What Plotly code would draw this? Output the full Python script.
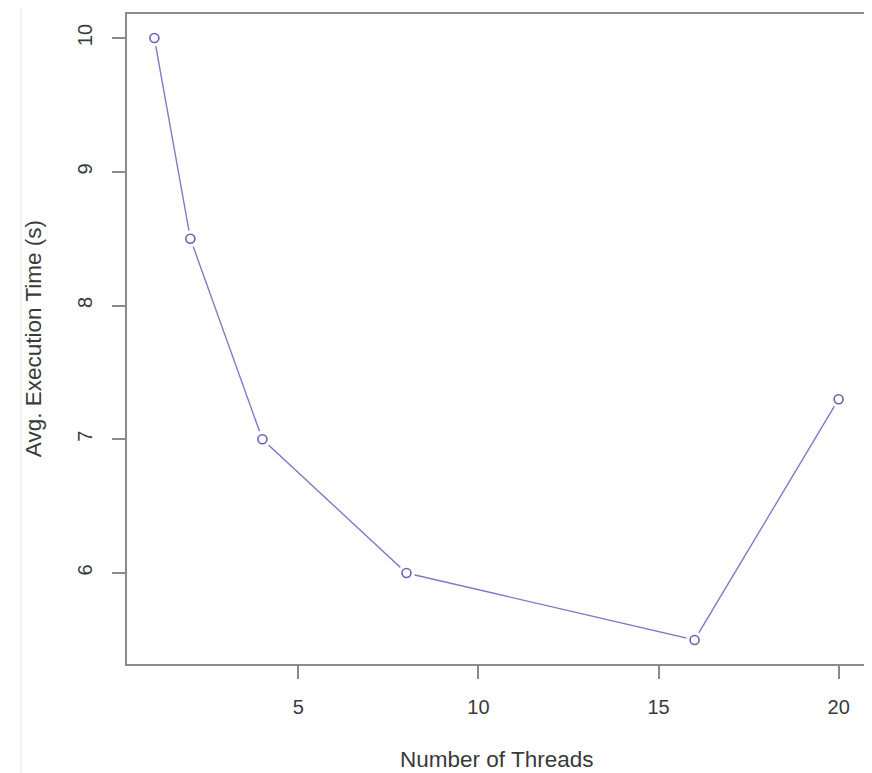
import plotly.graph_objects as go

threads = [1, 2, 4, 8, 16, 20]
avg_time = [10.0, 8.5, 7.0, 6.0, 5.5, 7.3]
x_ticks = [5, 10, 15, 20]
y_ticks = [6, 7, 8, 9, 10]
x_title = "Number of Threads"
y_title = "Avg. Execution Time (s)"

line_col = "#7c7cc8"
mark_col = "#6464b4"
font_fam = "Liberation Sans, Arial, sans-serif"
txt_col = "#3a3a3a"

fig = go.Figure()
fig.add_trace(go.Scatter(x=threads, y=avg_time, mode="lines",
                         line=dict(color=line_col, width=1.4), hoverinfo="skip"))
fig.add_trace(go.Scatter(x=threads, y=avg_time, mode="markers",
                         marker=dict(symbol="circle", size=17, color="white",
                                     line=dict(width=0)), hoverinfo="skip"))
fig.add_trace(go.Scatter(x=threads, y=avg_time, mode="markers",
                         marker=dict(symbol="circle-open", size=9, color=mark_col,
                                     line=dict(width=1.6, color=mark_col))))

axis_common = dict(showgrid=False, zeroline=False, showline=True, mirror=True,
                   linecolor="#8a8a8a", linewidth=1.5, ticks="outside", ticklen=13,
                   tickwidth=1.5, tickcolor="#8a8a8a",
                   tickfont=dict(family=font_fam, size=20, color=txt_col))

fig.update_xaxes(range=[0.24, 20.76], tickvals=x_ticks, ticklabelstandoff=11, **axis_common)
fig.update_yaxes(range=[5.32, 10.18], tickvals=y_ticks, tickangle=-90,
                 ticklabelstandoff=12, **axis_common)

fig.add_annotation(text=x_title, xref="paper", yref="paper", x=0.5, y=-0.147,
                   showarrow=False, xanchor="center", yanchor="middle",
                   font=dict(family=font_fam, size=22.5, color=txt_col))
fig.add_annotation(text=y_title, xref="paper", yref="paper", x=-0.127, y=0.5,
                   showarrow=False, xanchor="center", yanchor="middle", textangle=-90,
                   font=dict(family=font_fam, size=22.5, color=txt_col))

fig.add_shape(type="line", xref="paper", yref="paper", x0=-0.1434, x1=-0.1434,
              y0=-0.17, y1=1.02, line=dict(color="#ececec", width=1.5))

fig.update_layout(width=864, height=765, showlegend=False,
                  plot_bgcolor="white", paper_bgcolor="white",
                  margin=dict(l=119, r=6, t=4, b=109))

fig.write_html("out.html")
